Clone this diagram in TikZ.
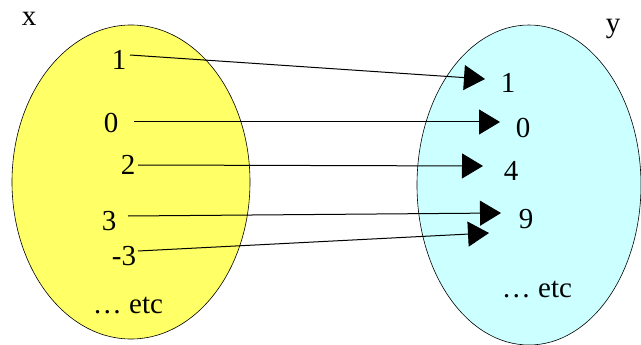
\documentclass[tikz,border=0pt]{standalone}
\usepackage{fontspec}
\setmainfont{Liberation Serif}
\usetikzlibrary{arrows.meta}
\definecolor{setyellow}{RGB}{255,255,102}
\definecolor{setcyan}{RGB}{204,255,255}
\begin{document}
\begin{tikzpicture}[x=1pt,y=-1pt,
  lbl/.style={anchor=base,inner sep=0pt,font=\fontsize{29}{31}\selectfont},
  maparrow/.style={line width=1pt,-{Triangle[length=21pt,width=25pt]}},
  setshape/.style={draw=black,line width=0.6pt}]
\useasboundingbox (0,0) rectangle (641,345);
\fill[white] (0,0) rectangle (641,345);
\draw[setshape,fill=setyellow] (131,182) ellipse [x radius=119, y radius=157];
\draw[setshape,fill=setcyan] (529,185) ellipse [x radius=112, y radius=160];
\node[lbl] (xl) at (29,26) {x};
\node[lbl] (yl) at (613,33) {y};
% domain
\node[lbl] (d1) at (119,70) {1};
\node[lbl] (d0) at (111,133) {0};
\node[lbl] (d2) at (128,175) {2};
\node[lbl] (d3) at (109,230) {3};
\node[lbl] (dm3) at (124,265) {-3};
\node[lbl] (detc) at (128,313) {\dots{} etc};
% codomain
\node[lbl] (r1) at (508,93) {1};
\node[lbl] (r0) at (523,138) {0};
\node[lbl] (r4) at (511,180) {4};
\node[lbl] (r9) at (526,228) {9};
\node[lbl] (retc) at (537,297) {\dots{} etc};
% connector ends
\coordinate (s1) at (130,55);
\coordinate (s0) at (134,122);
\coordinate (s2) at (138,165);
\coordinate (s3) at (128,216);
\coordinate (sm3) at (138,251);
\coordinate (t1) at (485,79);
\coordinate (t0) at (500,122);
\coordinate (t2) at (483,166);
\coordinate (t3) at (501,213);
\coordinate (tm3) at (489,233);
\draw[maparrow] (s1) -- (t1);
\draw[maparrow] (s0) -- (t0);
\draw[maparrow] (s2) -- (t2);
\draw[maparrow] (s3) -- (t3);
\draw[maparrow] (sm3) -- (tm3);
\end{tikzpicture}
\end{document}
